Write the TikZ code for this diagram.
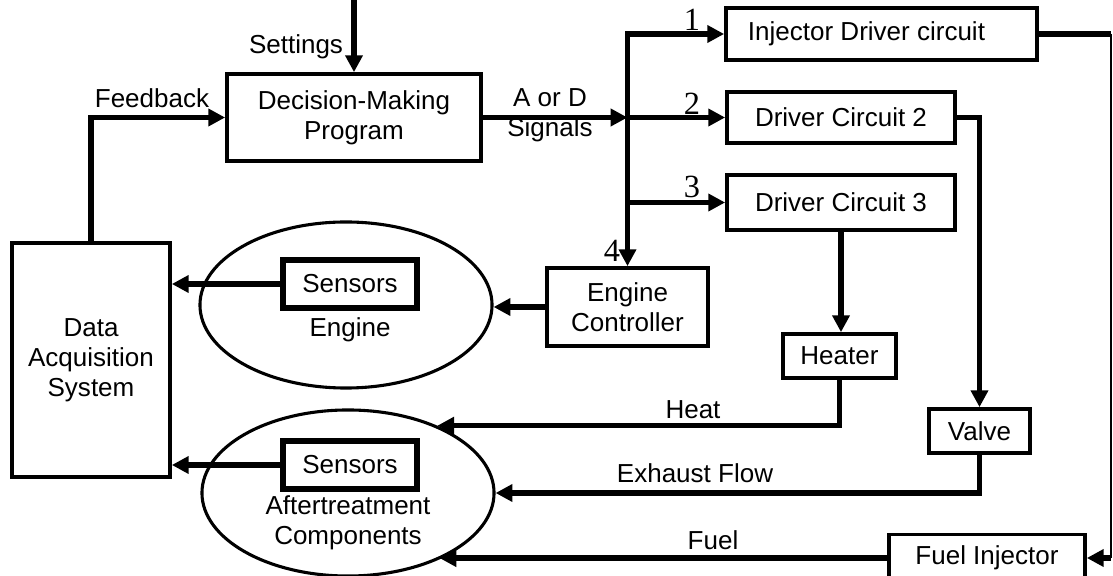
\documentclass[tikz,border=0pt]{standalone}
\usepackage{fontspec}
\setmainfont{Liberation Sans}
\newfontfamily\numfont{Liberation Serif}
\usepackage{tikz}
\usetikzlibrary{arrows.meta}
\usetikzlibrary{shapes.geometric}

\begin{document}
\begin{tikzpicture}[x=0.025cm,y=-0.025cm,>={Triangle[length=12pt,width=12pt]},
  every node/.style={font=\fontsize{18.5}{21.5}\selectfont},
  block/.style={draw,line width=2.6pt,align=center,inner sep=0pt},
  sensorbox/.style={draw,line width=3.6pt,inner sep=0pt,minimum width=3.35cm,minimum height=1.2cm},
  blob/.style={draw,ellipse,line width=2.2pt,minimum width=7.3cm,minimum height=4.15cm},
  wire/.style={line width=3.6pt},
  flow/.style={wire,->},
  numlabel/.style={font=\numfont\fontsize{23}{26}\selectfont}]
  \useasboundingbox (0,0) rectangle (1113,576);

  %program and data acquisition
  \node[block,minimum width=6.35cm,minimum height=2.175cm] (dmp) at (354,117.5) {Decision-Making\\Program};
  \node[block,minimum width=3.95cm,minimum height=5.85cm] (das) at (91,360) {Data\\Acquisition\\System};
  \coordinate (top) at (354,0);
  \node (setlab) at (296,47) {Settings};
  \node (fblab) at (152,98) {Feedback};
  \node[align=center] (adlab) at (550,115) {A or D\\Signals};

  %drivers
  \node[block,align=flush left,inner xsep=0.55cm,text width=6.675cm,minimum height=1.3cm] (idc) at (881.5,34) {Injector Driver circuit};
  \node[block,minimum width=5.7cm,minimum height=1.275cm] (dc2) at (841,117.5) {Driver Circuit 2};
  \node[block,minimum width=5.7cm,minimum height=1.375cm] (dc3) at (841,202.5) {Driver Circuit 3};
  \node[block,minimum width=4.025cm,minimum height=1.95cm] (ec) at (627.5,307) {Engine\\Controller};
  \node[numlabel] (n1) at (692,20) {1};
  \node[numlabel] (n2) at (692,104) {2};
  \node[numlabel] (n3) at (692,187) {3};
  \node[numlabel] (n4) at (612,251) {4};

  %actuators
  \node[block,minimum width=2.825cm,minimum height=1.1cm] (heater) at (839.5,356) {Heater};
  \node[block,minimum width=2.525cm,minimum height=1.1cm] (valve) at (979.5,431) {Valve};
  \node[block,minimum width=4.9cm,minimum height=1.175cm] (fi) at (987,558) {Fuel Injector};
  \coordinate (rc) at (1111,34);

  %engine and aftertreatment
  \node[blob] (eng) at (346,305) {};
  \node[blob] (aft) at (348,493) {};
  \node[sensorbox] (engsens) at (350,284) {Sensors};
  \node (englab) at (350,330) {Engine};
  \node[sensorbox] (aftsens) at (350,465) {Sensors};
  \node[align=center] (aftlab) at (348,523) {Aftertreatment\\Components};
  \node (heatlab) at (693,410) {Heat};
  \node (exlab) at (695,473) {Exhaust Flow};
  \node (fuellab) at (713,540) {Fuel};

  %connections
  \draw[flow] (top) -- (dmp.north);
  \draw[flow] (das.north) |- (dmp.west);
  \draw[flow] (dmp.east) -- (dmp.east -| ec.north);
  \draw[wire,<->] (ec.north) |- (idc.west);
  \foreach \n in {dc2,dc3}
    \draw[flow] (\n.west -| ec.north) -- (\n.west);
  \draw[flow] (ec.west) -- (ec.west -| eng.east);
  \draw[flow] (engsens.west) -- (engsens.west -| das.east);
  \draw[flow] (aftsens.west) -- (aftsens.west -| das.east);
  \draw[flow] (dc2.east) -| (valve.north);
  \draw[flow] (dc3.south) -- (dc3.south |- heater.north);
  \draw[flow] (heater.south) |- (aft.37);
  \draw[flow] (valve.south) |- (aft.east);
  \draw[flow] (fi.west) -- (fi.west -| aft.-36);
  \draw[wire] (idc.east) -- (rc);
  \draw[line width=1pt] (rc) -- (rc |- fi.east);
  \draw[flow] (rc |- fi.east) -- (fi.east);
\end{tikzpicture}
\end{document}
